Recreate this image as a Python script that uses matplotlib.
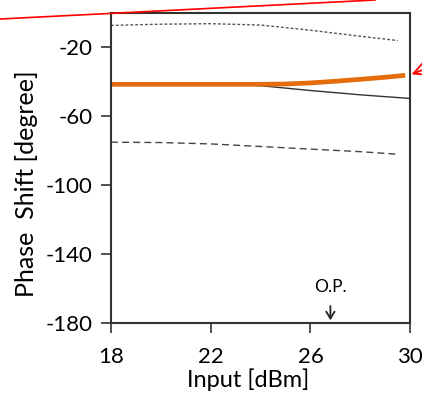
import matplotlib
matplotlib.use("Agg")
import matplotlib.pyplot as plt
import numpy as np

plt.rcParams['font.family'] = ['Lato', 'DejaVu Sans']
plt.rcParams['axes.unicode_minus'] = False

x_dot = [18, 20, 22, 24, 26, 28, 29.5]
y_dot = [-7.2, -6.5, -6.2, -7.0, -10.0, -13.5, -16.0]

x_or = [18, 20, 22, 24, 25, 26, 27, 28, 29, 29.8]
y_or = [-41.4, -41.4, -41.4, -41.4, -41.2, -40.6, -39.6, -38.5, -37.3, -36.2]

x_sol = [18, 20, 22, 23, 24, 26, 28, 30]
y_sol = [-41.4, -41.4, -41.4, -41.5, -42.2, -45.0, -47.5, -49.6]

x_dash = [18, 20, 22, 24, 26, 28, 29.5]
y_dash = [-75.0, -75.2, -76.0, -77.5, -79.0, -80.5, -82.0]

xticks = [18, 22, 26, 30]
yticks = [-20, -60, -100, -140, -180]

fig = plt.figure(figsize=(4.22, 3.94), dpi=100)
ax = fig.add_axes([0.263, 0.180, 0.709, 0.787])

ax.plot(x_dot, y_dot, color='#555555', lw=1.0, ls=(0, (2, 1.5)))
ax.plot(x_sol, y_sol, color='#333333', lw=1.0)
ax.plot(x_dash, y_dash, color='#444444', lw=1.0, ls=(0, (5, 3)))
ax.plot(x_or, y_or, color='#E46C0A', lw=3.4, solid_capstyle='butt')

ax.set_xlim(18, 30)
ax.set_ylim(-180, 0)
ax.set_xticks(xticks)
ax.set_yticks(yticks)
ax.tick_params(labelsize=16, length=7, width=1.2, color='#333333')
ax.tick_params(axis='x', pad=10)
ax.tick_params(axis='y', pad=6)
for s in ax.spines.values():
    s.set_linewidth(1.5)
    s.set_color('#333333')

ax.set_xlabel('Input [dBm]', fontsize=17)
ax.xaxis.set_label_coords(0.46, -0.145)
ax.set_ylabel('Phase  Shift [degree]', fontsize=18)
ax.yaxis.set_label_coords(-0.245, 0.45)

# operating point marker
ax.text(26.8, -159, 'O.P.', fontsize=12.5, ha='center', va='center')
ax.annotate('', xy=(26.8, -180), xytext=(26.8, -168.5),
            arrowprops=dict(arrowstyle='->,head_length=0.5,head_width=0.3',
                            color='#222222', lw=1.3))

# red callout lines outside the axes
fig.add_artist(plt.Line2D([0, 375/422], [1 - 19/394, 1.0], color='red', lw=1.2,
                          transform=fig.transFigure))
ax.annotate('', xy=(29.95, -36.2), xycoords='data',
            xytext=(1.06, 1 - 60/394), textcoords='figure fraction',
            arrowprops=dict(arrowstyle='->,head_length=0.9,head_width=0.45',
                            color='red', lw=1.3))

fig.savefig('out.png', dpi=100)
